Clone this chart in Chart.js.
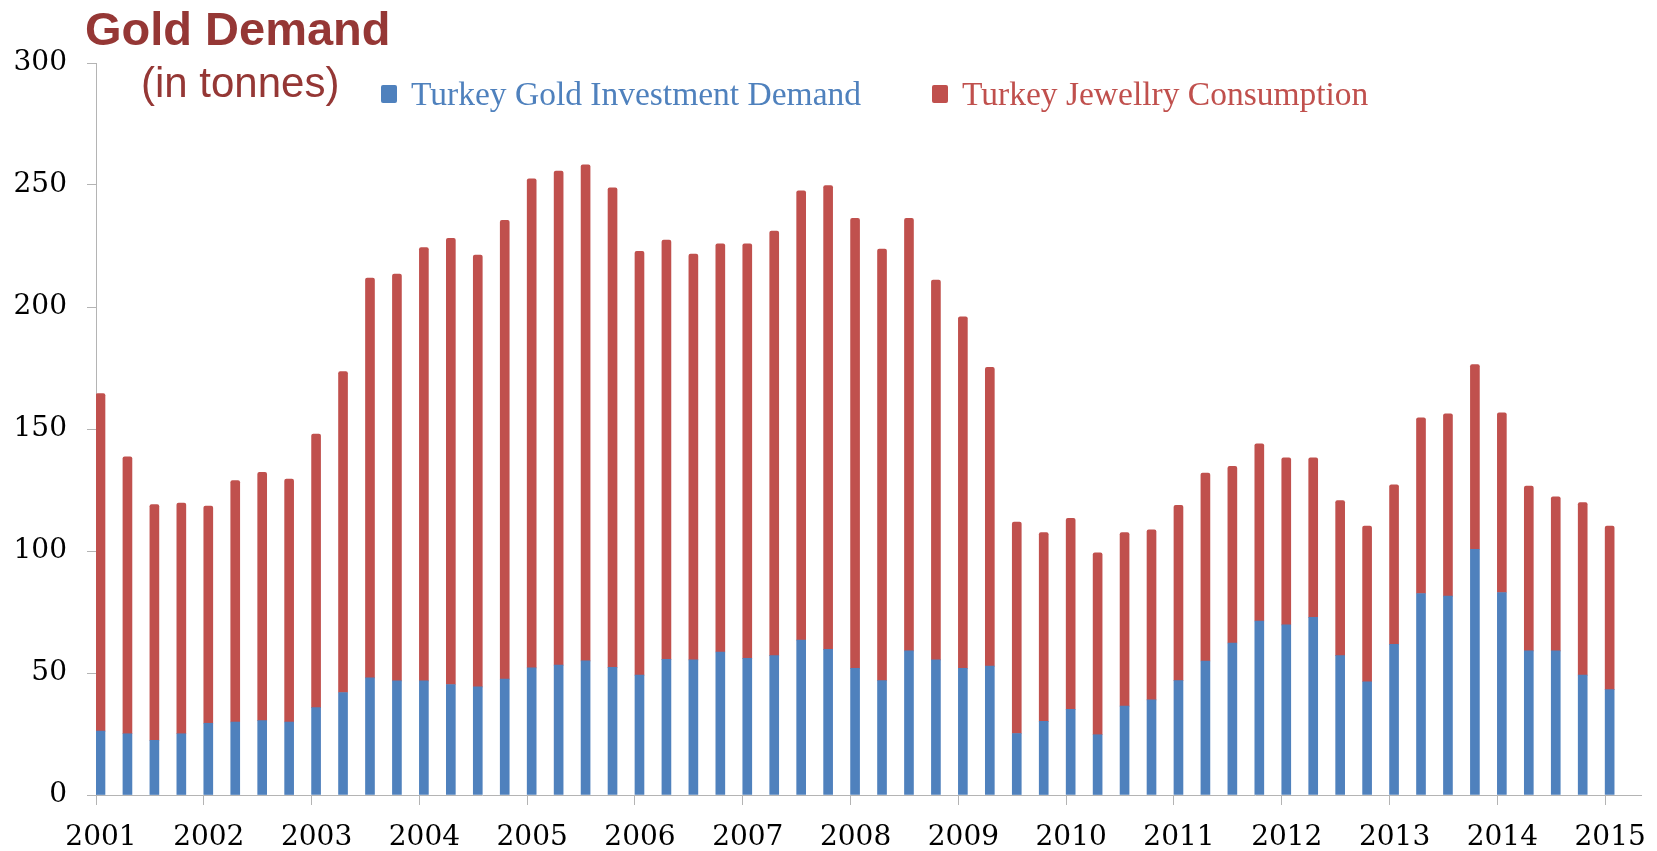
<!DOCTYPE html>
<html>
<head>
<meta charset="utf-8">
<title>Gold Demand</title>
<script src="https://cdn.jsdelivr.net/npm/chart.js@4.4.1/dist/chart.umd.min.js"></script>
<style>
    html, body { margin: 0; padding: 0; background: #ffffff; }
    #wrap { position: relative; width: 1657px; height: 851px; }
</style>
</head>
<body>
<div id="wrap"><canvas id="goldChart" width="1657" height="851"></canvas></div>
<script>
// Quarterly Turkey gold demand, tonnes
const quarters = [
    '2001 Q1', '2001 Q2', '2001 Q3', '2001 Q4',
    '2002 Q1', '2002 Q2', '2002 Q3', '2002 Q4',
    '2003 Q1', '2003 Q2', '2003 Q3', '2003 Q4',
    '2004 Q1', '2004 Q2', '2004 Q3', '2004 Q4',
    '2005 Q1', '2005 Q2', '2005 Q3', '2005 Q4',
    '2006 Q1', '2006 Q2', '2006 Q3', '2006 Q4',
    '2007 Q1', '2007 Q2', '2007 Q3', '2007 Q4',
    '2008 Q1', '2008 Q2', '2008 Q3', '2008 Q4',
    '2009 Q1', '2009 Q2', '2009 Q3', '2009 Q4',
    '2010 Q1', '2010 Q2', '2010 Q3', '2010 Q4',
    '2011 Q1', '2011 Q2', '2011 Q3', '2011 Q4',
    '2012 Q1', '2012 Q2', '2012 Q3', '2012 Q4',
    '2013 Q1', '2013 Q2', '2013 Q3', '2013 Q4',
    '2014 Q1', '2014 Q2', '2014 Q3', '2014 Q4',
    '2015 Q1'
];

const investmentDemand = [
    26.2, 25.1, 22.4, 25.1, 29.4, 29.9, 30.5, 29.9, 35.8, 42.0,
    48.0, 46.8, 46.8, 45.3, 44.3, 47.5, 52.1, 53.2, 55.0, 52.3,
    49.1, 55.6, 55.4, 58.6, 56.0, 57.1, 63.5, 59.7, 51.9, 46.9,
    59.1, 55.4, 51.9, 52.8, 25.2, 30.2, 35.1, 24.7, 36.4, 39.0,
    46.9, 54.9, 62.3, 71.3, 69.7, 72.8, 57.1, 46.4, 61.7, 82.6,
    81.5, 100.7, 83.0, 59.1, 59.1, 49.1, 43.2
];

const jewelleryConsumption = [
    138.3, 113.5, 96.6, 94.5, 89.0, 99.0, 101.7, 99.6, 112.1, 131.5,
    163.9, 166.7, 177.6, 182.8, 177.0, 188.0, 200.4, 202.5, 203.3, 196.5,
    173.7, 171.8, 166.3, 167.3, 169.9, 174.0, 184.1, 190.1, 184.4, 176.8,
    177.2, 155.6, 144.1, 122.5, 86.7, 77.4, 78.3, 74.5, 71.2, 69.7,
    71.8, 77.0, 72.4, 72.6, 68.5, 65.4, 63.6, 63.8, 65.4, 72.0,
    74.7, 75.7, 73.6, 67.5, 63.1, 70.7, 67.0
];

const yTicks = [0, 50, 100, 150, 200, 250, 300];
const yearTicks = [2001, 2002, 2003, 2004, 2005, 2006, 2007, 2008, 2009, 2010, 2011, 2012, 2013, 2014, 2015];

const titleText = 'Gold Demand';
const subtitleText = '(in tonnes)';
const seriesNames = ['Turkey Gold Investment Demand', 'Turkey Jewellry Consumption'];

const blue = '#4F81BD';
const red = '#C0504D';
const axisGray = '#B4B4B4';
const tickFont = { family: '"DejaVu Serif", "Liberation Serif", serif', size: 28 };

// the axis is a monthly date axis: each quarter bar fills the first month of its quarter
function quarterPos(label) {
    const parts = label.split(' Q');
    return Number(parts[0]) + (Number(parts[1]) - 1) / 4 + 1 / 24;
}

function toPoints(values) {
    return values.map((v, i) => ({ x: quarterPos(quarters[i]), y: v }));
}

// title, subtitle and the legend sit inside the plot, drawn on top
const headerPlugin = {
    id: 'header',
    afterDraw(chart) {
        const ctx = chart.ctx;
        ctx.save();
        ctx.textBaseline = 'alphabetic';
        ctx.fillStyle = '#953735';
        ctx.font = 'bold 47px "Liberation Sans", Arial, sans-serif';
        ctx.fillText(titleText, 85, 45);
        ctx.font = '42px "Liberation Sans", Arial, sans-serif';
        ctx.fillText(subtitleText, 141, 97);

        const legendX = [381, 932];
        ctx.font = '33.5px "Liberation Serif", serif';
        chart.data.datasets.forEach((ds, i) => {
            ctx.fillStyle = ds.backgroundColor;
            ctx.beginPath();
            ctx.roundRect(legendX[i], 85, 16, 18, 2);
            ctx.fill();
            ctx.fillText(ds.label, legendX[i] + 30, 105);
        });
        ctx.restore();
    }
};

const ctx = document.getElementById('goldChart').getContext('2d');
const chart = new Chart(ctx, {
    type: 'bar',
    data: {
        datasets: [{
            label: seriesNames[0],
            data: toPoints(investmentDemand),
            backgroundColor: blue,
            barThickness: 9
        }, {
            label: seriesNames[1],
            data: toPoints(jewelleryConsumption),
            backgroundColor: red,
            barThickness: 9,
            borderRadius: { topLeft: 2, topRight: 2, bottomLeft: 0, bottomRight: 0 },
            borderSkipped: 'bottom'
        }]
    },
    options: {
        responsive: false,
        animation: false,
        layout: { padding: { top: 63, right: 9, left: 0, bottom: 0 } },
        plugins: {
            legend: { display: false },
            title: { display: false },
            tooltip: { enabled: false }
        },
        scales: {
            x: {
                type: 'linear',
                stacked: true,
                offset: false,
                min: yearTicks[0],
                max: yearTicks[yearTicks.length - 1] + 4 / 12,
                afterFit: scale => { scale.height = 56; },
                afterBuildTicks: scale => { scale.ticks = yearTicks.map(v => ({ value: v })); },
                ticks: {
                    font: tickFont,
                    color: '#000000',
                    padding: 16,
                    labelOffset: 5,
                    maxRotation: 0,
                    autoSkip: false,
                    callback: v => String(v)
                },
                grid: { display: true, offset: false, drawOnChartArea: false, drawTicks: true, tickLength: 10, color: axisGray },
                border: { display: true, color: axisGray, width: 1 }
            },
            y: {
                stacked: true,
                min: 0,
                max: 300,
                afterFit: scale => { scale.width = 96; },
                afterBuildTicks: scale => { scale.ticks = yTicks.map(v => ({ value: v })); },
                ticks: {
                    font: tickFont,
                    color: '#000000',
                    padding: 20
                },
                grid: { display: true, drawOnChartArea: false, drawTicks: true, tickLength: 9, color: axisGray },
                border: { display: true, color: axisGray, width: 1 }
            }
        }
    },
    plugins: [headerPlugin]
});
</script>
</body>
</html>
